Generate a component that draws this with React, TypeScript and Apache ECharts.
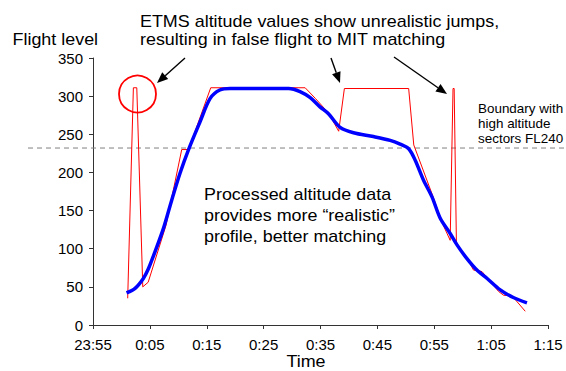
import React, { useEffect, useRef } from "react";
import * as echarts from "echarts";

// Time axis: minutes elapsed since 23:55, one label every 10 minutes
const tickLabels = ["23:55", "0:05", "0:15", "0:25", "0:35", "0:45", "0:55", "1:05", "1:15"];

// Raw ETMS altitude samples (flight level) with their jumps
const rawMinutes = [6.1, 7.1, 7.7, 8.75, 9.7, 12.85, 15.6, 16.8, 20.7, 37.3, 39.1, 41.4, 43.2, 44.2, 55.5, 56.4, 59.9, 61.2, 62.8, 63.3, 63.5, 63.9, 65.7, 66.9, 68.4, 69.3, 71.3, 72.2, 73.7, 76.0];
const rawLevels = [35, 311, 311, 50, 56, 131, 230, 230, 311, 311, 297, 278, 254, 310, 310, 236, 166, 137, 111, 310, 310, 106, 89, 72, 70, 62, 44, 39, 38, 18];

// Processed (smoothed) altitude profile
const processedMinutes = [5.9, 7.4, 8.85, 9.7, 10.6, 12.4, 13.85, 15.3, 16.8, 18.8, 20.6, 22.3, 24.1, 34.4, 36.4, 38.2, 39.9, 41.4, 43.45, 45.8, 49.3, 52.25, 54.0, 55.5, 56.65, 58.1, 59.6, 61.05, 62.8, 64.0, 65.75, 67.5, 69.3, 71.6, 73.9, 76.3];
const processedLevels = [42, 48, 61, 73, 90, 127, 164, 199, 230, 266, 297, 308, 310, 310, 306, 298, 286, 277, 259, 252, 247, 242, 237, 231, 216, 190, 168, 140, 120, 105, 87, 72, 61, 46, 36, 29];

// Boundary with the high altitude sectors
const boundaryLevel = 232;

const FONT = '"Liberation Sans", Arial, sans-serif';
// Annotation text is set slightly wide
const TEXT_STRETCH = 1.12;

function arrow(x1: number, y1: number, x2: number, y2: number) {
  const len = 11;
  const half = 4.5;
  const a = Math.atan2(y2 - y1, x2 - x1);
  const bx = x2 - len * Math.cos(a);
  const by = y2 - len * Math.sin(a);
  const nx = -Math.sin(a) * half;
  const ny = Math.cos(a) * half;
  return [
    {
      type: "line",
      shape: { x1, y1, x2: bx, y2: by },
      style: { stroke: "#000", lineWidth: 1.4 },
      z: 100,
    },
    {
      type: "polygon",
      shape: { points: [[x2, y2], [bx + nx, by + ny], [bx - nx, by - ny]] },
      style: { fill: "#000" },
      z: 100,
    },
  ];
}

function label(text: string, x: number, y: number, size: number, align = "left") {
  return {
    type: "text",
    x,
    y,
    scaleX: TEXT_STRETCH,
    z: 100,
    style: {
      text,
      font: `${size}px ${FONT}`,
      fill: "#000",
      textAlign: align,
      textVerticalAlign: "middle",
    },
  };
}

export default function App() {
  const ref = useRef<HTMLDivElement>(null);

  useEffect(() => {
    if (!ref.current) return;
    const chart = echarts.init(ref.current, undefined, { renderer: "svg" });

    chart.setOption({
      animation: false,
      backgroundColor: "#fff",
      grid: { left: 93, right: 18, top: 58, bottom: 46 },
      xAxis: {
        type: "value",
        min: 0,
        max: 80,
        interval: 10,
        splitLine: { show: false },
        axisLine: { lineStyle: { color: "#333", width: 1 } },
        axisTick: { length: 4, lineStyle: { color: "#333" } },
        axisLabel: {
          color: "#000",
          fontSize: 15,
          fontFamily: FONT,
          margin: 12,
          formatter: (v: number) => tickLabels[Math.round(v / 10)] ?? "",
        },
      },
      yAxis: {
        type: "value",
        min: 0,
        max: 350,
        interval: 50,
        splitLine: { show: false },
        axisLine: { show: true, lineStyle: { color: "#333", width: 1 } },
        axisTick: { show: true, length: 4, lineStyle: { color: "#333" } },
        axisLabel: { color: "#000", fontSize: 15, fontFamily: FONT, margin: 10 },
      },
      series: [
        {
          name: "ETMS",
          type: "line",
          data: rawMinutes.map((m, i) => [m, rawLevels[i]]),
          showSymbol: false,
          lineStyle: { color: "#ff0000", width: 1 },
          z: 2,
        },
        {
          name: "Processed",
          type: "line",
          data: processedMinutes.map((m, i) => [m, processedLevels[i]]),
          showSymbol: false,
          smooth: 0.3,
          lineStyle: { color: "#0000ff", width: 3.5 },
          z: 3,
        },
      ],
    });

    const by = chart.convertToPixel({ gridIndex: 0 }, [0, boundaryLevel])[1];

    chart.setOption({
      graphic: [
        {
          type: "line",
          shape: { x1: 28, y1: by, x2: 566, y2: by },
          style: { stroke: "#808080", lineWidth: 1, lineDash: [5, 4] },
          z: 1,
        },
        {
          type: "circle",
          shape: { cx: 137.5, cy: 94, r: 18.5 },
          style: { fill: "none", stroke: "#ff0000", lineWidth: 1.8 },
          z: 100,
        },
        ...arrow(185, 58, 157, 83),
        ...arrow(331, 58, 340, 83),
        ...arrow(394, 57, 447, 94),
        label("ETMS altitude values show unrealistic jumps,", 140, 21.8, 16),
        label("resulting in false flight to MIT matching", 140, 39.5, 16),
        label("Flight level", 12.5, 39.5, 16),
        label("Processed altitude data", 204, 194.5, 16),
        label("provides more \u201crealistic\u201d", 204, 216, 16),
        label("profile, better matching", 204, 237, 16),
        label("Boundary with", 478, 108.7, 12),
        label("high altitude", 478, 124, 12),
        label("sectors FL240", 478, 138.4, 12),
        label("Time", 306, 361.5, 16, "center"),
      ],
    });

    return () => chart.dispose();
  }, []);

  return (
    <div
      ref={ref}
      style={{ position: "absolute", left: 0, top: 0, width: 566, height: 371 }}
    />
  );
}
